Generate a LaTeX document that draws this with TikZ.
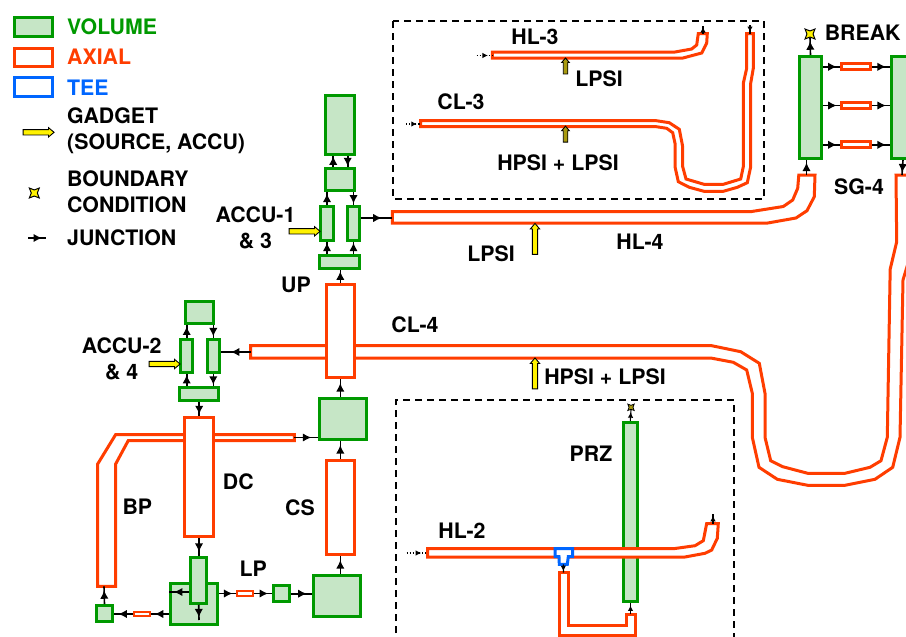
\documentclass[tikz,border=0pt]{standalone}
\usepackage{fontspec}
\setmainfont{TeX Gyre Heros}
\usetikzlibrary{arrows.meta,shapes.geometric,shapes.arrows,decorations.markings}
\definecolor{volgreen}{HTML}{009900}
\definecolor{volfill}{HTML}{C6E6C6}
\definecolor{axired}{HTML}{FF3D00}
\definecolor{teeblue}{HTML}{0066FF}
\definecolor{dimyellow}{HTML}{A89A10}

\begin{document}
\begin{tikzpicture}[x=1pt,y=-1pt]
\tikzstyle{vol}=[draw=volgreen,fill=volfill,line width=3.2pt,inner sep=0pt]
\tikzstyle{axi}=[draw=axired,fill=white,line width=3pt,inner sep=0pt,line join=miter]
\tikzstyle{axis}=[axi,line width=2.2pt]
\tikzstyle{tee}=[draw=teeblue,fill=white,line width=3pt,inner sep=0pt]
\tikzstyle{lab}=[inner sep=0pt,font=\fontsize{21.3}{26}\selectfont\bfseries,align=center]
\tikzstyle{leg}=[lab,anchor=west,align=left]
\tikzstyle{boxline}=[line width=1.6pt,dash pattern=on 7pt off 5pt]
\tikzstyle{junc}=[line width=1.6pt,postaction={decorate},
  decoration={markings,mark=at position 0.5 with {\arrow[xshift=5pt]{Latex[length=8.5pt,width=8.5pt]}}}]
\tikzstyle{tiny}=[line width=1.1pt,postaction={decorate},
  decoration={markings,mark=at position 0.6 with {\arrow[xshift=2pt]{Latex[length=5.5pt,width=5.5pt]}}}]
\tikzstyle{gadget}=[single arrow,draw=black,fill=yellow,line width=.9pt,inner xsep=0pt,inner ysep=2.2pt,
  minimum width=9pt,single arrow head extend=2pt,single arrow tip angle=80]
\tikzstyle{bound}=[star,star points=4,star point ratio=2.3,shape border rotate=45,draw=black,fill=yellow,
  line width=1pt,inner sep=0pt,minimum size=14pt]
\useasboundingbox (0,0) rectangle (906,637);

% dashed boxes
\draw[boxline] (393,21) rectangle (764,199);
\draw[boxline] (396,645) -- (396,400) -- (734,400) -- (734,645);

% legend
\node[vol,minimum width=38,minimum height=19] (lgv) at (33.5,27) {};
\node[axi,minimum width=38,minimum height=18] (lga) at (33.5,57.5) {};
\node[tee,minimum width=38,minimum height=19] (lgt) at (33.5,87) {};
\node[leg,text=volgreen] (tv) at (67,27) {VOLUME};
\node[leg,text=axired] (ta) at (67,57) {AXIAL};
\node[leg,text=teeblue] (tt) at (67,88) {TEE};
\node[leg] (tg) at (67,131) {GADGET\\(SOURCE, ACCU)};
\node[leg] (tb) at (67,192) {BOUNDARY\\CONDITION};
\node[leg] (tj) at (67,238) {JUNCTION};
\node[gadget,minimum height=31] (lgg) at (37,132.3) {};
\node[bound] (lgb) at (34.3,193) {};
\coordinate (lgj1) at (28,238);
\coordinate (lgj2) at (46,238);
\draw[junc] (lgj1) -- (lgj2);

% pipes
\draw[axi] (392.3,211.5) -- (751.7,211.5) -- (783.3,206.5) -- (792.7,200) -- (797.7,188.3)
  -- (798.8,175) -- (815,175) -- (814.3,196.7) -- (807,210.7) -- (796,218)
  -- (766.7,223.2) -- (392.3,223.2) -- cycle;
\draw[axi] (492.3,52) -- (675,52) -- (691.7,49) -- (696.7,45) -- (698.3,33.5)
  -- (707.3,33.5) -- (706.7,43) -- (701.7,53) -- (683,58) -- (492.3,58) -- cycle;
\draw[axi] (420.7,120.5) -- (655,120.5) -- (669.3,122.7) -- (679.3,129.3) -- (682.7,146.7)
  -- (682.7,166.7) -- (686,179) -- (704,184.3) -- (723.3,184.3) -- (740.7,179)
  -- (743.3,166.7) -- (743.3,83.3) -- (746.7,68.3) -- (746.7,33.5) -- (753.3,33.5)
  -- (753.3,68.3) -- (750.7,83.3) -- (750.7,166.7) -- (747.3,182.7) -- (737.3,187.3)
  -- (723.3,191.3) -- (704,191.3) -- (689.3,187.3) -- (678.3,181.7) -- (675,166.7)
  -- (675,143.3) -- (672.7,132.7) -- (666.7,128.3) -- (655,126.5) -- (420.7,126.5) -- cycle;
% CL-4 runs round to SG-4
\draw[axi] (250.7,345.5) -- (710.7,345.5) -- (740.7,351.7) -- (759.3,363.3) -- (765,393.3)
  -- (765,437.3) -- (770.7,460.7) -- (782.7,466.7) -- (807.7,473.3) -- (845,473.3)
  -- (870,467.3) -- (881,460.7) -- (887.3,437.3) -- (890,280) -- (890,270) -- (896.7,241.7)
  -- (896,175) -- (912,175) -- (912,250) -- (903,280) -- (900,437.3) -- (892.7,467.3)
  -- (875,479.3) -- (845,485.3) -- (807.7,485.3) -- (777.3,479.3) -- (759,467.3)
  -- (752.3,437.3) -- (752.3,393.3) -- (746.7,370) -- (733.3,362.3) -- (710.7,358)
  -- (250.7,358) -- cycle;
\draw[axi] (294.3,434.5) -- (115.7,434.5) -- (97.5,464.3) -- (97.5,586.3) -- (115.5,586.3)
  -- (115.5,464.3) -- (128.3,440.5) -- (294.3,440.5) -- cycle;
\draw[axi] (559.5,572.5) -- (568.3,572.5) -- (568.3,625.7) -- (626,625.7) -- (626,614)
  -- (635,614) -- (635,635) -- (559.5,635) -- cycle;
\coordinate (hl4a) at (392.3,218);
\coordinate (hl4b) at (806.5,175);
\coordinate (cl4a) at (250.7,352);
\coordinate (cl4b) at (902,175);
\coordinate (bpa) at (294.3,437.5);
\coordinate (bpb) at (104,586.3);
\coordinate (sla) at (563.5,572.5);
\coordinate (slb) at (630.5,614);

% upper head and ACCU-1
\node[vol,minimum width=28.7,minimum height=59] (uh1) at (340.2,125) {};
\node[vol,minimum width=28.7,minimum height=22.3] (uh2) at (340.2,179.3) {};
\node[vol,minimum width=12.4,minimum height=33.4] (acl) at (327,223.5) {};
\node[vol,minimum width=12,minimum height=33.4] (acr) at (353.5,223.5) {};
\node[vol,minimum width=39.4,minimum height=13.3] (ub) at (339.5,261.8) {};
\node[axi,minimum width=28.3,minimum height=93.6] (up) at (340.3,331) {};
\node[vol,minimum width=46.7,minimum height=41] (ple) at (343.2,419) {};
\node[axi,minimum width=28.3,minimum height=94] (cs) at (340.3,507.5) {};

% ACCU-2 and downcomer
\node[vol,minimum width=28.6,minimum height=21.7] (a2t) at (199.5,312.6) {};
\node[vol,minimum width=12.3,minimum height=32.7] (a2l) at (186.7,355.8) {};
\node[vol,minimum width=12.3,minimum height=32.7] (a2r) at (213.3,355.8) {};
\node[vol,minimum width=39.3,minimum height=13.3] (a2b) at (199.2,394.2) {};
\node[axi,minimum width=28.4,minimum height=118.7] (dc) at (199,477) {};

% lower part
\node[vol,minimum width=46.4,minimum height=41] (lp3) at (337,596.3) {};
\node[vol,minimum width=16,minimum height=15.7] (lp2) at (281.5,593.7) {};
\node[axis,minimum width=16,minimum height=4.3] (lpa) at (245.2,593.5) {};
\node[vol,minimum width=47,minimum height=40.7] (lp1) at (193.7,603.8) {};
\node[vol,minimum width=15.7,minimum height=45.7] (lpi) at (198.7,580.3) {};
\node[vol,minimum width=16,minimum height=16] (bv) at (104.5,613.8) {};
\node[axis,minimum width=16,minimum height=4.5] (ba) at (141.8,614) {};
\coordinate (lpd) at (199,620);

% SG-4
\node[vol,minimum width=22.6,minimum height=102] (sgl) at (810.5,107.5) {};
\node[vol,minimum width=23,minimum height=102] (sgr) at (903,107.5) {};
\node[axi,minimum width=29,minimum height=6] (sg1) at (856,66.8) {};
\node[axi,minimum width=29,minimum height=6] (sg2) at (856,105.5) {};
\node[axi,minimum width=29,minimum height=6] (sg3) at (856,144.8) {};
\node[bound] (brk) at (810,34) {};

% PRZ and HL-2 on top of it
\node[vol,minimum width=14.3,minimum height=179] (prz) at (630.3,512) {};
\node[bound,minimum size=9pt,line width=.8pt,fill=dimyellow] (pb) at (631,407.3) {};
\draw[axi] (427.7,548.5) -- (675,548.5) -- (695,545.7) -- (703.3,540.7) -- (706.7,523.5)
  -- (718.3,523.5) -- (717.3,538.3) -- (711.7,550) -- (705,553.3) -- (685,557) -- (427.7,557) -- cycle;
\draw[tee] (555,548.5) -- (572.7,548.5) -- (572.7,556.7) -- (568.3,556.7) -- (567.3,564.3)
  -- (559.3,564.3) -- (559,556.7) -- (555,556.7) -- cycle;
\coordinate (teeb) at (563.3,564.3);

% free ends inside the dashed boxes
\coordinate (hl3a) at (476.5,55.5);
\coordinate (hl3b) at (492.3,55.5);
\coordinate (hl3c) at (703,33.5);
\coordinate (hl3d) at (703,26);
\coordinate (cl3a) at (406,124);
\coordinate (cl3b) at (420.7,124);
\coordinate (cl3c) at (750,25);
\coordinate (cl3d) at (750,33.5);
\coordinate (hl2a) at (406.5,553);
\coordinate (hl2b) at (427.7,553);
\coordinate (hl2c) at (713,523.5);
\coordinate (hl2d) at (713,514);

% gadgets
\node[gadget,minimum height=31] (g1) at (303,231.3) {};
\node[gadget,minimum height=31] (g2) at (163,364) {};
\node[gadget,minimum height=31,rotate=90] (g3) at (535,240.5) {};
\node[gadget,minimum height=31,rotate=90] (g4) at (535,375) {};
\node[gadget,minimum height=16,inner ysep=1.8pt,minimum width=7pt,single arrow head extend=1.6pt,fill=dimyellow,rotate=90] (g5) at (565.5,67.3) {};
\node[gadget,minimum height=16,inner ysep=1.8pt,minimum width=7pt,single arrow head extend=1.6pt,fill=dimyellow,rotate=90] (g6) at (565.5,135.5) {};

% junctions
\draw[junc] ([xshift=-7pt]uh2.north) -- ([xshift=-7pt]uh1.south);
\draw[junc] ([xshift=7.5pt]uh1.south) -- ([xshift=7.5pt]uh2.north);
\draw[junc] (acl.north) -- (acl.north |- uh2.south);
\draw[junc] (acr.north |- uh2.south) -- (acr.north);
\draw[junc] (acl.south |- ub.north) -- (acl.south);
\draw[junc] (acr.south |- ub.north) -- (acr.south);
\draw[junc] (up.north) -- (up.north |- ub.south);
\draw[junc] (acr.east |- hl4a) -- (hl4a);
\draw[junc] (a2l.north) -- (a2l.north |- a2t.south);
\draw[junc] (a2r.north |- a2t.south) -- (a2r.north);
\draw[junc] (a2l.south |- a2b.north) -- (a2l.south);
\draw[junc] (a2r.south) -- (a2r.south |- a2b.north);
\draw[junc] (a2b.south) -- (a2b.south |- dc.north);
\draw[junc] (cl4a) -- (a2r.east |- cl4a);
\draw[junc] (dc.south) -- (dc.south |- lpi.north);
\draw[junc] (bpa) -- (ple.west |- bpa);
\draw[junc] (cs.north) -- (cs.north |- ple.south);
\draw[junc] (up.south |- ple.north) -- (up.south);
\draw[junc] (cs.south |- lp3.north) -- (cs.south);
\draw[junc] (lp2.east) -- (lp3.west |- lp2.east);
\draw[junc] (lpa.east) -- (lp2.west |- lpa.east);
\draw[junc] (lp1.east |- lpa.west) -- (lpa.west);
\draw[junc] (lpi.west |- 0,592) -- (lp1.west |- 0,592);
\draw[junc] (lpi.south) -- (lpd);
\draw[junc] (lp1.west |- ba.east) -- (ba.east);
\draw[junc] (ba.west) -- (bv.east |- ba.west);
\draw[junc] (bv.north) -- (bpb);
\draw[junc] (hl4b) -- (hl4b |- sgl.south);
\draw[junc] (sgl.north) -- (brk.south);
\draw[junc] (sgl.east |- sg1.west) -- (sg1.west);
\draw[junc] (sg1.east) -- (sgr.west |- sg1.east);
\draw[junc] (sgl.east |- sg2.west) -- (sg2.west);
\draw[junc] (sg2.east) -- (sgr.west |- sg2.east);
\draw[junc] (sgl.east |- sg3.west) -- (sg3.west);
\draw[junc] (sg3.east) -- (sgr.west |- sg3.east);
\draw[junc] (sgr.south) -- (cl4b);
\draw[tiny,dotted] (hl3a) -- (hl3b);
\draw[tiny] (hl3c) -- (hl3d);
\draw[tiny,dotted] (cl3a) -- (cl3b);
\draw[tiny] (cl3c) -- (cl3d);
\draw[tiny,dotted] (hl2a) -- (hl2b);
\draw[tiny] (hl2c) -- (hl2d);
\draw[tiny] (teeb) -- (sla);
\draw[tiny] (slb) -- (slb |- prz.south);
\draw[tiny] (prz.north) -- (pb.south);

% labels
\node[lab] (t1) at (255.5,227.5) {ACCU-1\\\& 3};
\node[lab] (t2) at (121.7,358.5) {ACCU-2\\\& 4};
\node[lab] (t3) at (296,285) {UP};
\node[lab] (t4) at (415,325) {CL-4};
\node[lab] (t5) at (640,242) {HL-4};
\node[lab] (t6) at (491,254) {LPSI};
\node[lab] (t7) at (535,37) {HL-3};
\node[lab] (t8) at (599,79) {LPSI};
\node[lab] (t9) at (461,102) {CL-3};
\node[lab] (t10) at (558,163) {HPSI + LPSI};
\node[lab] (t11) at (862.7,33) {BREAK};
\node[lab] (t12) at (859,187) {SG-4};
\node[lab] (t13) at (605,377) {HPSI + LPSI};
\node[lab] (t14) at (591,454) {PRZ};
\node[lab] (t15) at (462,531) {HL-2};
\node[lab] (t16) at (238.3,482) {DC};
\node[lab] (t17) at (137.3,506.7) {BP};
\node[lab] (t18) at (300,508) {CS};
\node[lab] (t19) at (253.3,568.7) {LP};
\end{tikzpicture}
\end{document}
